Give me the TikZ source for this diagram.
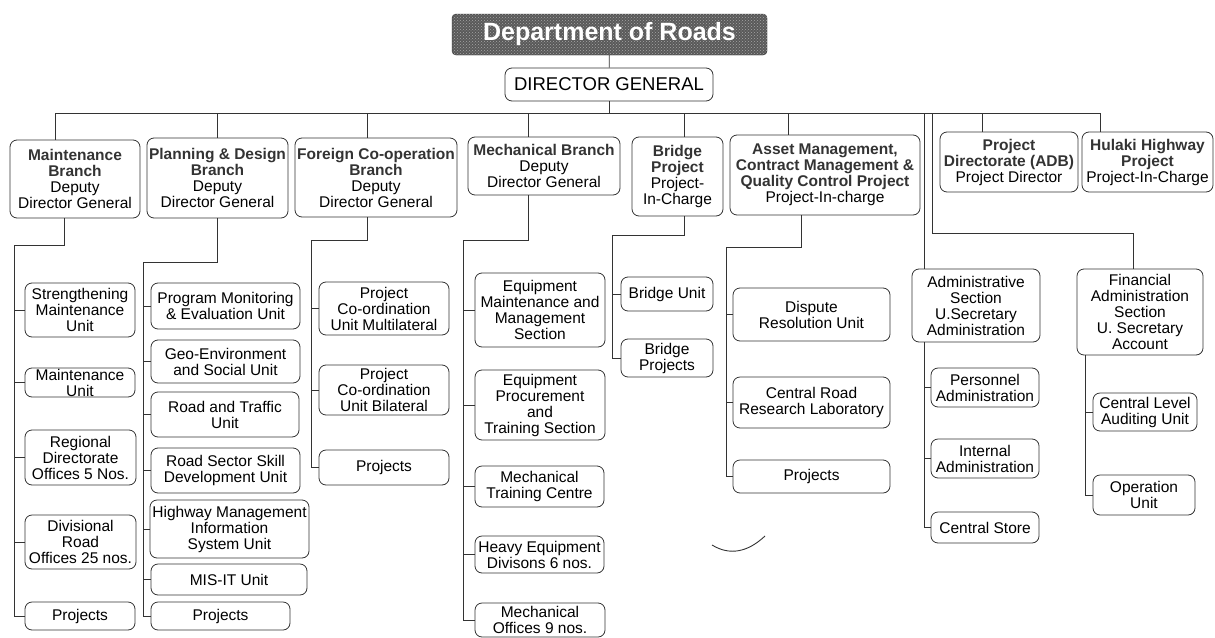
\documentclass[tikz,border=0pt]{standalone}
\usepackage{fontspec}
\setmainfont{Liberation Sans}
\usetikzlibrary{patterns}
\definecolor{ink}{gray}{0.2}
\definecolor{hdcol}{gray}{0.2}
% bold heading line inside a box
\newcommand\hdr[1]{{\bfseries\color{hdcol}#1}}
% \orgbox{name}{left}{top}{right}{bottom}{text}
\newcommand\orgbox[6]{\node[unit, minimum width={#4-#2}, minimum height={#5-#3}] (#1) at ({(#2+#4)/2},{(#3+#5)/2}) {#6};}

\begin{document}
\begin{tikzpicture}[x=1pt,y=-1pt,
  unit/.style={draw=ink, line width=0.8pt, rounded corners=7pt, align=center, inner sep=0.5pt,
               font=\fontsize{15.5}{16}\selectfont},
  wire/.style={draw=ink, line width=0.8pt}]
\useasboundingbox (0,0) rectangle (1215,637);

% ---- top of the chart
\node[draw=black!85, fill=black!65, rounded corners=4pt, minimum width=315pt, minimum height=41pt,
      text=white, font=\fontsize{25}{28}\bfseries\selectfont,
      postaction={pattern=crosshatch dots, pattern color=black!35}] (dor) at (609.5,34.5) {Department of Roads};
\node[unit, minimum width=208pt, minimum height=33pt, font=\fontsize{18.5}{20}\selectfont] (dg) at (609,84.5) {DIRECTOR GENERAL};

% ---- branches and projects
\orgbox{mb}{10}{140}{140}{218}{\hdr{Maintenance}\\\hdr{Branch}\\Deputy\\Director General}
\orgbox{pdb}{147}{138}{288}{218}{\hdr{Planning \& Design}\\\hdr{Branch}\\Deputy\\Director General}
\orgbox{fcb}{295}{138}{457}{217}{\hdr{Foreign Co-operation}\\\hdr{Branch}\\Deputy\\Director General}
\orgbox{mcb}{468}{137}{620}{195}{\hdr{Mechanical Branch}\\Deputy\\Director General}
\orgbox{bpj}{632}{137}{723}{216}{\hdr{Bridge}\\\hdr{Project}\\Project-\\In-Charge}
\orgbox{amp}{730}{135}{920}{215}{\hdr{Asset Management,}\\\hdr{Contract Management \&}\\\hdr{Quality Control Project}\\Project-In-charge}
\orgbox{pda}{940}{132}{1078}{192}{\hdr{Project}\\\hdr{Directorate (ADB)}\\Project Director}
\orgbox{hhp}{1082}{132}{1213}{192}{\hdr{Hulaki Highway}\\\hdr{Project}\\Project-In-Charge}

% ---- Maintenance branch units
\orgbox{smu}{25}{283}{135}{337}{Strengthening\\Maintenance\\Unit}
\orgbox{mu}{25}{368}{135}{397}{Maintenance\\Unit}
\orgbox{rdo}{25}{430}{136}{485}{Regional\\Directorate\\Offices 5 Nos.}
\orgbox{dro}{25}{515}{136}{569}{Divisional\\Road\\Offices 25 nos.}
\orgbox{mpr}{25}{602}{135}{630}{Projects}

% ---- Planning & Design branch units
\orgbox{pme}{151}{283}{300}{329}{Program Monitoring\\\& Evaluation Unit}
\orgbox{geo}{151}{340}{300}{383}{Geo-Environment\\and Social Unit}
\orgbox{rtu}{151}{392}{299}{437}{Road and Traffic\\Unit}
\orgbox{rss}{151}{448}{300}{493}{Road Sector Skill\\Development Unit}
\orgbox{hmis}{150}{500}{309}{558}{Highway Management\\Information\\System Unit}
\orgbox{mis}{151}{564}{307}{595}{MIS-IT Unit}
\orgbox{ppr}{151}{602}{290}{630}{Projects}

% ---- Foreign Co-operation branch units
\orgbox{pcm}{319}{282}{449}{335}{Project\\Co-ordination\\Unit Multilateral}
\orgbox{pcb}{319}{365}{449}{415}{Project\\Co-ordination\\Unit Bilateral}
\orgbox{fpr}{319}{450}{449}{485}{Projects}

% ---- Mechanical branch units
\orgbox{emm}{475}{273}{605}{347}{Equipment\\Maintenance and\\Management\\Section}
\orgbox{ept}{475}{370}{605}{440}{Equipment\\Procurement\\and\\Training Section}
\orgbox{mtc}{475}{466}{604}{507}{Mechanical\\Training Centre}
\orgbox{hed}{475}{536}{604}{573}{Heavy Equipment\\Divisons 6 nos.}
\orgbox{mof}{475}{603}{605}{637}{Mechanical\\Offices 9 nos.}

% ---- Bridge project units
\orgbox{bu}{621}{277}{713}{311}{Bridge Unit}
\orgbox{bpr}{621}{339}{713}{377}{Bridge\\Projects}

% ---- Asset management project units
\orgbox{dru}{733}{288}{890}{341}{Dispute\\Resolution Unit}
\orgbox{crr}{733}{377}{890}{428}{Central Road\\Research Laboratory}
\orgbox{apr}{733}{460}{890}{493}{Projects}

% ---- Administration
\orgbox{asa}{912}{269}{1040}{342}{Administrative\\Section\\U.Secretary\\Administration}
\orgbox{pa}{931}{368}{1039}{407}{Personnel\\Administration}
\orgbox{ia}{931}{439}{1039}{478}{Internal\\Administration}
\orgbox{cs}{931}{512}{1039}{543}{Central Store}

% ---- Financial administration
\orgbox{fas}{1077}{269}{1203}{355}{Financial\\Administration\\Section\\U. Secretary\\Account}
\orgbox{clau}{1093}{393}{1197}{431}{Central Level\\Auditing Unit}
\orgbox{ou}{1093}{475}{1195}{515}{Operation\\Unit}

% ---- connectors from the top
\draw[wire] (dor) -- (dg);
\coordinate (busL) at (55,113);
\coordinate (busR) at (1100,113);
\draw[wire] (dg.south) -- (dg.south |- busL);
\draw[wire] (busL) -- (busR);
\foreach \xx/\nn in {55/mb,217/pdb,367/fcb,528/mcb,684/bpj,788/amp,982/pda,1100/hhp}
  \draw[wire] (\xx,113) -- (\xx,113 |- \nn.north);
\coordinate (ad0) at (924,113);
\draw[wire] (ad0) -- (ad0 |- asa.north);
\coordinate (fi0) at (932,113);
\coordinate (fi1) at (932,233);
\coordinate (fi2) at (1133,233);
\draw[wire] (fi0) -- (fi1) -- (fi2) -- (fi2 |- fas.north);

% ---- Maintenance trunk
\coordinate (mt0) at (64,245);
\coordinate (mt) at (14,245);
\draw[wire] (mt0 |- mb.south) -- (mt0) -- (mt) -- (mt |- mpr.west) -- (mpr.west);
\foreach \nn in {smu,mu,rdo,dro} \draw[wire] (mt |- \nn.west) -- (\nn.west);

% ---- Planning trunk
\coordinate (pt0) at (217,262);
\coordinate (pt) at (143,262);
\draw[wire] (pt0 |- pdb.south) -- (pt0) -- (pt) -- (pt |- ppr.west) -- (ppr.west);
\foreach \nn in {pme,geo,rtu,rss,hmis,mis} \draw[wire] (pt |- \nn.west) -- (\nn.west);

% ---- Foreign trunk
\coordinate (ft0) at (367,240);
\coordinate (ft) at (311,240);
\draw[wire] (ft0 |- fcb.south) -- (ft0) -- (ft) -- (ft |- fpr.west) -- (fpr.west);
\foreach \nn in {pcm,pcb} \draw[wire] (ft |- \nn.west) -- (\nn.west);

% ---- Mechanical trunk
\coordinate (ct0) at (528,240);
\coordinate (ct) at (463,240);
\draw[wire] (ct0 |- mcb.south) -- (ct0) -- (ct) -- (ct |- mof.west) -- (mof.west);
\foreach \nn in {emm,ept,mtc,hed} \draw[wire] (ct |- \nn.west) -- (\nn.west);

% ---- Bridge trunk
\coordinate (bt0) at (684,235);
\coordinate (bt) at (612,235);
\draw[wire] (bt0 |- bpj.south) -- (bt0) -- (bt) -- (bt |- bpr.west) -- (bpr.west);
\draw[wire] (bt |- bu.west) -- (bu.west);

% ---- Asset management trunk
\coordinate (at0) at (801,247);
\coordinate (at) at (726,247);
\draw[wire] (at0 |- amp.south) -- (at0) -- (at) -- (at |- apr.west) -- (apr.west);
\foreach \nn in {dru,crr} \draw[wire] (at |- \nn.west) -- (\nn.west);

% ---- Administration trunk
\coordinate (dt) at (924,0);
\draw[wire] (dt |- asa.south) -- (dt |- cs.west) -- (cs.west);
\foreach \nn in {pa,ia} \draw[wire] (dt |- \nn.west) -- (\nn.west);

% ---- Financial trunk
\coordinate (nt) at (1085,0);
\draw[wire] (nt |- fas.south) -- (nt |- ou.west) -- (ou.west);
\draw[wire] (nt |- clau.west) -- (clau.west);

% ---- loose stroke below the asset column
\draw[ink, line width=0.9pt] (712,545) .. controls (730,556) and (748,552) .. (765,536);
\end{tikzpicture}
\end{document}
